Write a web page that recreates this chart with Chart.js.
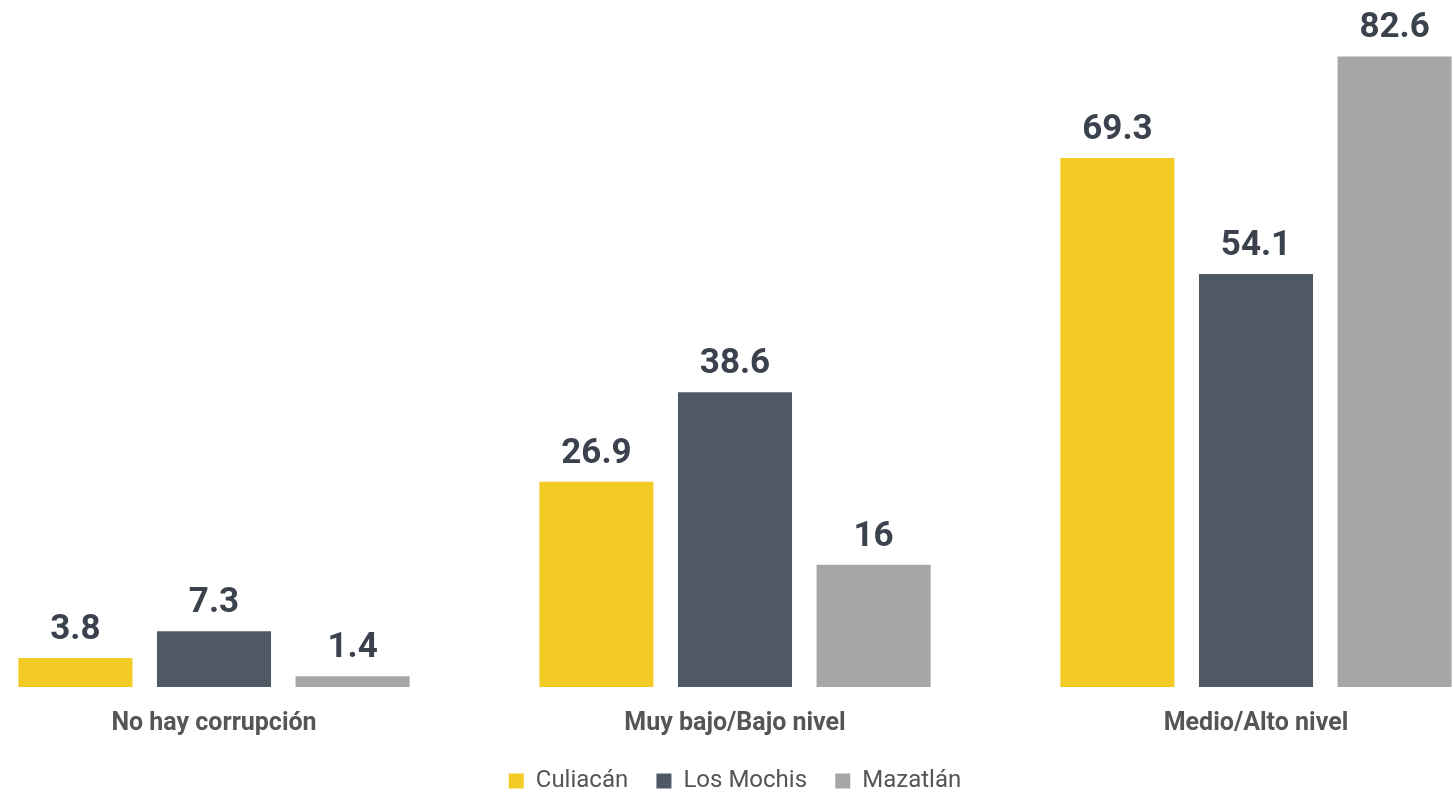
<!DOCTYPE html>
<html>
<head>
<meta charset="utf-8">
<script src="https://cdn.jsdelivr.net/npm/chart.js@4"></script>
<style>
  html, body { margin: 0; padding: 0; background: #fff; }
  #wrap { width: 1453px; height: 794px; position: relative; }
</style>
</head>
<body>
<div id="wrap"><canvas id="chart"></canvas></div>
<script>
'use strict';

const categories = ['No hay corrupción', 'Muy bajo/Bajo nivel', 'Medio/Alto nivel'];
const culiacan   = [3.8, 26.9, 69.3];
const losMochis  = [7.3, 38.6, 54.1];
const mazatlan   = [1.4, 16, 82.6];

const seriesNames  = ['Culiacán', 'Los Mochis', 'Mazatlán'];
const seriesColors = ['#F2CC25', '#4F5966', '#A6A6A6'];

// values printed above each bar
const valueLabels = {
  id: 'valueLabels',
  afterDatasetsDraw(chart) {
    const ctx = chart.ctx;
    ctx.save();
    ctx.font = 'bold 35px Roboto';
    ctx.fillStyle = '#3B424D';
    ctx.textAlign = 'center';
    ctx.textBaseline = 'alphabetic';
    chart.data.datasets.forEach((ds, i) => {
      chart.getDatasetMeta(i).data.forEach((bar, j) => {
        ctx.fillText(String(ds.data[j]), bar.x, bar.y - 19);
      });
    });
    ctx.restore();
  }
};

const datasets = [culiacan, losMochis, mazatlan].map((vals, i) => ({
  label: seriesNames[i],
  data: vals,
  backgroundColor: seriesColors[i],
  borderWidth: 0,
  categoryPercentage: 0.798,
  barPercentage: 0.823,
  clip: false
}));

new Chart(document.getElementById('chart'), {
  type: 'bar',
  data: { labels: categories, datasets },
  options: {
    responsive: true,
    maintainAspectRatio: false,
    animation: false,
    layout: { padding: { left: 214, right: 197, top: 0, bottom: -9 } },
    plugins: {
      legend: {
        position: 'bottom',
        labels: {
          boxWidth: 15,
          boxHeight: 15,
          padding: 16,
          color: '#555',
          font: { family: 'Roboto', size: 24 },
          // wider gap between items than the legend padding gives
          generateLabels(chart) {
            const items = Chart.defaults.plugins.legend.labels.generateLabels(chart);
            items.forEach((it, i) => { if (i < items.length - 1) it.text += '\u2002'; });
            return items;
          }
        }
      },
      tooltip: { enabled: false }
    },
    scales: {
      x: {
        offset: false,
        grid: { display: false },
        border: { display: false },
        ticks: {
          color: '#555',
          font: { family: 'Roboto', size: 25, weight: 'bold' },
          padding: 14,
          maxRotation: 0,
          autoSkip: false
        }
      },
      y: {
        display: false,
        min: 0,
        max: 90
      }
    }
  },
  plugins: [valueLabels]
});
</script>
</body>
</html>
